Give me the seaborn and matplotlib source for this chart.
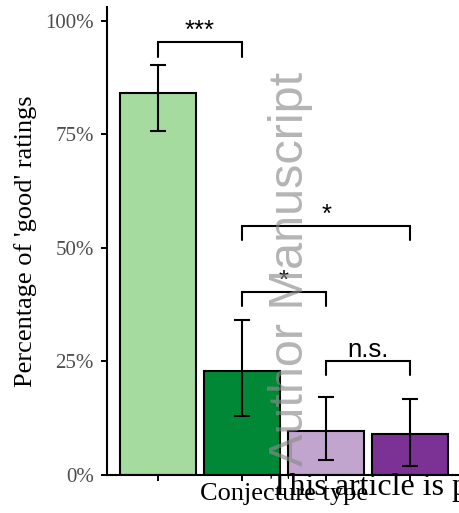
import matplotlib
matplotlib.use("Agg")
import numpy as np
import pandas as pd
import matplotlib.pyplot as plt
import seaborn as sns

# =====================================================================
# DATA
# =====================================================================
conjecture = ["c1", "c2", "c3", "c4"]
pct_good = [0.841, 0.229, 0.097, 0.090]
ci_low = [0.758, 0.130, 0.033, 0.020]
ci_high = [0.903, 0.341, 0.172, 0.167]
bar_colors = ["#a6dba0", "#008837", "#c2a5cf", "#7b3294"]

y_ticks = [0.0, 0.25, 0.50, 0.75, 1.0]
y_tick_labels = ["0%", "25%", "50%", "75%", "100%"]

# pairwise comparisons: start bar, end bar, bracket height, label
sig_start = [0, 1, 1, 2]
sig_end = [1, 3, 2, 3]
sig_height = [0.952, 0.548, 0.403, 0.251]
sig_label = ["***", "*", "*", "n.s."]
TIP = 0.031

SERIF = ["Liberation Serif", "DejaVu Serif"]
SANS = ["Liberation Sans", "DejaVu Sans"]

sns.set_style("ticks")
plt.rcParams["font.family"] = SERIF

W, H = 459, 513
fig = plt.figure(figsize=(W / 100, H / 100), dpi=100)
ax = fig.add_axes([107 / W, 38 / H, 354 / W, 468 / H])

df = pd.DataFrame({"conjecture": conjecture, "pct": pct_good})
sns.barplot(
    data=df,
    x="conjecture",
    y="pct",
    hue="conjecture",
    palette=bar_colors,
    saturation=1,
    width=0.9,
    edgecolor="black",
    linewidth=1.5,
    errorbar=None,
    legend=False,
    ax=ax,
)

xpos = np.arange(len(conjecture))
pct = np.array(pct_good)
ax.errorbar(
    xpos,
    pct,
    yerr=[pct - np.array(ci_low), np.array(ci_high) - pct],
    fmt="none",
    ecolor="black",
    elinewidth=1.5,
    capsize=6,
    capthick=1.5,
    zorder=5,
)

# significance brackets
for s, e, h, lab in zip(sig_start, sig_end, sig_height, sig_label):
    ax.plot([s, s, e, e], [h - TIP, h, h, h - TIP], color="black", lw=1.5,
            solid_joinstyle="miter", zorder=6)
    ax.text((s + e) / 2, h + 0.009, lab, ha="center", va="baseline",
            fontsize=18.5, family=SANS, color="black")

ax.set_xlim(-0.6, 3.6)
ax.set_ylim(0, 1.03)
ax.set_yticks(y_ticks)
ax.set_yticklabels(y_tick_labels)
ax.set_xticks(xpos)
ax.set_xticklabels([""] * len(conjecture))
ax.tick_params(axis="both", length=4.5, width=1.4, color="black",
               labelsize=15, labelcolor="#4d4d4d", pad=5)

for side in ["top", "right"]:
    ax.spines[side].set_visible(False)
for side in ["left", "bottom"]:
    ax.spines[side].set_linewidth(1.5)
    ax.spines[side].set_color("black")

ax.set_xlabel("Conjecture type", fontsize=19, color="black")
ax.set_ylabel("Percentage of 'good' ratings", fontsize=19, color="black")
ax.xaxis.set_label_coords(0.5, -0.018)
ax.yaxis.set_label_coords(-0.198, 0.5)

# overlays from the source page
fig.text(303 / W, (H - 466) / H, "Author Manuscript", rotation=90,
         rotation_mode="anchor", ha="left", va="baseline", fontsize=35,
         family=SANS, color="#8c8c8c", alpha=0.65, zorder=10)
fig.text(270 / W, (H - 495) / H, "This article is protected by copyright.",
         ha="left", va="baseline", fontsize=23, family=SERIF,
         color="black", zorder=11)

fig.savefig("out.png", dpi=100)
